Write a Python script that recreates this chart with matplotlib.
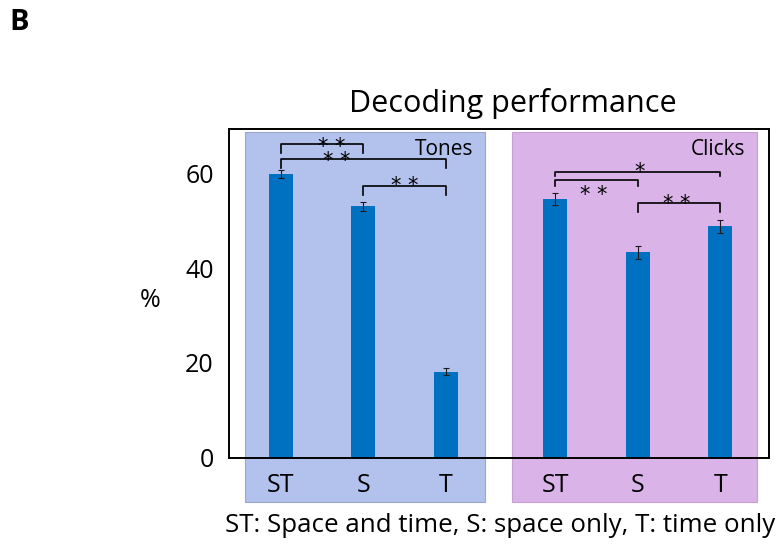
import matplotlib.pyplot as plt
from matplotlib.patches import Rectangle
from matplotlib.transforms import offset_copy

plt.rcParams['font.family'] = ['Open Sans', 'DejaVu Sans']

# data
conditions = ['ST', 'S', 'T']
tones_vals = [59.8, 53.0, 18.2]
tones_err = [0.9, 1.0, 0.8]
clicks_vals = [54.5, 43.3, 48.8]
clicks_err = [1.3, 1.3, 1.3]

tones_x = [0, 1, 2]
clicks_x = [3.33, 4.33, 5.33]

bar_color = '#0070c0'
tones_bg = '#b3c1ed'
clicks_bg = '#dab3e8'

fig = plt.figure(figsize=(7.79, 5.47), dpi=100)
ax = fig.add_axes([0.294, 0.163, 0.693, 0.601])

ax.set_xlim(-0.63, 5.92)
ax.set_ylim(0, 69.3)

# background panels (extend below the axis to hold the tick labels)
ax.add_patch(Rectangle((-0.44, -9.3), 2.92, 77.9, facecolor=tones_bg,
                       edgecolor='#9aa6cc', lw=0.8, clip_on=False, zorder=0))
ax.add_patch(Rectangle((2.8, -9.3), 2.97, 77.9, facecolor=clicks_bg,
                       edgecolor='#c7a0d6', lw=0.8, clip_on=False, zorder=0))

ekw = dict(ecolor='#1a1a1a', elinewidth=0.8, capsize=2, capthick=0.8)
ax.bar(tones_x, tones_vals, width=0.29, color=bar_color, zorder=2, yerr=tones_err, error_kw=ekw)
ax.bar(clicks_x, clicks_vals, width=0.29, color=bar_color, zorder=2, yerr=clicks_err, error_kw=ekw)

star_fs = 15
# shift so the asterisk glyph (sits high in the em box) is centred on the given y
star_tr = offset_copy(ax.transData, fig=fig, y=-0.585 * star_fs, units='points')


def bracket(x1, x2, y, leg, label, tx, ty):
    ax.plot([x1, x1, x2, x2], [y - leg, y, y, y - leg], color='black', lw=1.2, zorder=3)
    ax.text(tx, ty, label, ha='center', va='baseline', fontsize=star_fs,
            family='DejaVu Sans', transform=star_tr, zorder=3)


# tones significance
bracket(tones_x[0], tones_x[1], 66.1, 1.9, '* *', 0.61, 66.8)
bracket(tones_x[0], tones_x[2], 62.9, 1.8, '* *', 0.68, 63.9)
bracket(tones_x[1], tones_x[2], 57.3, 1.9, '* *', 1.5, 58.6)

# clicks significance
bracket(clicks_x[0], clicks_x[2], 60.2, 0.7, '*', 4.35, 61.6)
bracket(clicks_x[0], clicks_x[1], 58.5, 1.2, '* *', 3.8, 56.8)
bracket(clicks_x[1], clicks_x[2], 53.7, 1.9, '* *', 4.8, 54.9)

ax.text(2.33, 65.1, 'Tones', ha='right', va='center', fontsize=15)
ax.text(5.63, 64.9, 'Clicks', ha='right', va='center', fontsize=15)

ax.set_xticks(tones_x + clicks_x)
ax.set_xticklabels(conditions + conditions)
ax.set_yticks([0, 20, 40, 60])
ax.tick_params(axis='both', length=0, labelsize=18)
ax.tick_params(axis='x', pad=11)
ax.tick_params(axis='y', pad=11)

ax.set_ylabel('%', rotation=0, fontsize=18, ha='center', va='center')
ax.yaxis.set_label_coords(-0.146, 0.48)

for sp in ax.spines.values():
    sp.set_linewidth(1.4)
    sp.set_zorder(4)

ax.text(0.526, 1.078, 'Decoding performance', transform=ax.transAxes,
        ha='center', va='center', fontsize=22)

fig.text(0.012, 0.958, 'B', fontsize=21, fontweight='bold', va='center')
fig.text(0.995, 0.04, 'ST: Space and time, S: space only, T: time only',
         ha='right', va='center', fontsize=18.6)

fig.savefig('out.png', dpi=100)
